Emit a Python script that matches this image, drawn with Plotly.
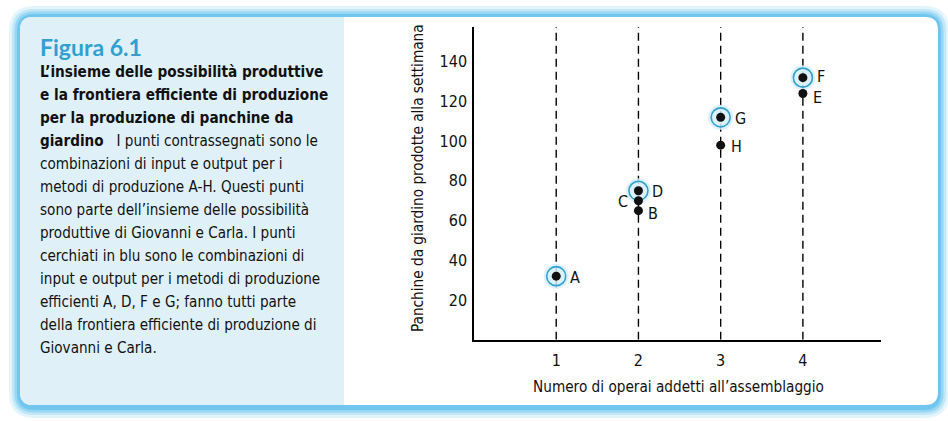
import plotly.graph_objects as go

# ---- data ----
labels = ['A', 'B', 'C', 'D', 'E', 'F', 'G', 'H']
workers = [1, 2, 2, 2, 4, 4, 3, 3]
benches = [32, 65, 70, 75, 124, 132, 112, 98]
efficient = [True, False, False, True, False, True, True, False]
label_side = ['right', 'right', 'left', 'right', 'right', 'right', 'right', 'right']
label_dy = [0, -2, 0, 0, -3, 2, 0, 0]

x_ticks = [1, 2, 3, 4]
y_ticks = [20, 40, 60, 80, 100, 120, 140]

x_title = "Numero di operai addetti all\u2019assemblaggio"
y_title = "Panchine da giardino prodotte alla settimana"
fig_title = "Figura 6.1"
caption_lines = [
    "<b>L\u2019insieme delle possibilità produttive</b>",
    "<b>e la frontiera efficiente di produzione</b>",
    "<b>per la produzione di panchine da</b>",
    "<b>giardino</b>   I punti contrassegnati sono le",
    "combinazioni di input e output per i",
    "metodi di produzione A-H. Questi punti",
    "sono parte dell\u2019insieme delle possibilità",
    "produttive di Giovanni e Carla. I punti",
    "cerchiati in blu sono le combinazioni di",
    "input e output per i metodi di produzione",
    "efficienti A, D, F e G; fanno tutti parte",
    "della frontiera efficiente di produzione di",
    "Giovanni e Carla.",
]

W, H = 948, 421
FONT = "DejaVu Sans Condensed, Liberation Sans, sans-serif"
BLUE = "#2fa0cf"


def px(x):
    return x / W


def py(y):
    return 1 - y / H


def rrect(x0, y0, x1, y1, r, corners=(1, 1, 1, 1)):
    tl, tr, br, bl = [r * c for c in corners]
    p = [f"M{px(x0 + tl)},{py(y0)}", f"L{px(x1 - tr)},{py(y0)}"]
    if tr:
        p.append(f"Q{px(x1)},{py(y0)} {px(x1)},{py(y0 + tr)}")
    p.append(f"L{px(x1)},{py(y1 - br)}")
    if br:
        p.append(f"Q{px(x1)},{py(y1)} {px(x1 - br)},{py(y1)}")
    p.append(f"L{px(x0 + bl)},{py(y1)}")
    if bl:
        p.append(f"Q{px(x0)},{py(y1)} {px(x0)},{py(y1 - bl)}")
    p.append(f"L{px(x0)},{py(y0 + tl)}")
    if tl:
        p.append(f"Q{px(x0)},{py(y0)} {px(x0 + tl)},{py(y0)}")
    p.append("Z")
    return " ".join(p)


shapes = []
cx0, cy0, cx1, cy1 = 20, 17, 938, 405
for d, col in [(11, "rgba(175,227,246,0.35)"), (8, "rgba(150,215,243,0.45)"),
               (5.5, "rgba(125,205,240,0.6)"), (3, "rgba(105,195,236,0.85)")]:
    shapes.append(dict(type="path", xref="paper", yref="paper", layer="below",
                       path=rrect(cx0 - d, cy0 - d, cx1 + d, cy1 + d + 2, 14 + d),
                       fillcolor=col, line=dict(width=0)))
shapes.append(dict(type="path", xref="paper", yref="paper", layer="below",
                   path=rrect(cx0, cy0, cx1, cy1, 13), fillcolor="white",
                   line=dict(width=0)))
shapes.append(dict(type="path", xref="paper", yref="paper", layer="below",
                   path=rrect(cx0, cy0, 344, cy1, 13, corners=(1, 0, 0, 1)),
                   fillcolor="#dff0f9", line=dict(width=0)))

for xv in x_ticks:
    shapes.append(dict(type="line", xref="x", yref="y", layer="below",
                       x0=xv, x1=xv, y0=0, y1=158,
                       line=dict(color="black", width=1.4, dash="8px,5px")))

fig = go.Figure()

eff_x = [x for x, e in zip(workers, efficient) if e]
eff_y = [y for y, e in zip(benches, efficient) if e]

fig.add_trace(go.Scatter(x=eff_x, y=eff_y, mode="markers", hoverinfo="skip",
                         marker=dict(size=25, color="rgba(215,238,249,0.85)", line=dict(width=0)),
                         showlegend=False))
fig.add_trace(go.Scatter(x=eff_x, y=eff_y, mode="markers", hoverinfo="skip",
                         marker=dict(size=19, symbol="circle-open", color=BLUE,
                                     line=dict(width=1.6, color=BLUE)),
                         showlegend=False))
fig.add_trace(go.Scatter(x=workers, y=benches, mode="markers",
                         marker=dict(size=9, color="#111111", line=dict(width=0)),
                         showlegend=False))

annotations = []
for lab, xv, yv, e, side, dy in zip(labels, workers, benches, efficient, label_side, label_dy):
    shift = 17 if e else 13
    annotations.append(dict(x=xv, y=yv, xref="x", yref="y", text=lab,
                            showarrow=False,
                            xanchor="left" if side == "right" else "right",
                            xshift=(shift - 5) if side == "right" else -(shift - 5),
                            yshift=dy - 1,
                            font=dict(family=FONT, size=16, color="#111111")))

annotations.append(dict(x=px(678), y=py(387), xref="paper", yref="paper",
                        text=x_title, showarrow=False, xanchor="center", yanchor="middle",
                        font=dict(family=FONT, size=15.2, color="#111111")))
annotations.append(dict(x=px(418), y=py(178), xref="paper", yref="paper",
                        text=y_title, showarrow=False, textangle=-90,
                        xanchor="center", yanchor="middle",
                        font=dict(family=FONT, size=15.2, color="#111111")))

annotations.append(dict(x=px(38), y=py(47), xref="paper", yref="paper",
                        text="<b>" + fig_title + "</b>", showarrow=False,
                        xanchor="left", yanchor="middle",
                        font=dict(family="Lato, Open Sans, sans-serif", size=23, color=BLUE)))
for i, line in enumerate(caption_lines):
    size = 15.2 if i < 3 else 15.1
    annotations.append(dict(x=px(38), y=py(72 + 23 * i), xref="paper", yref="paper",
                            text=line, showarrow=False, xanchor="left", yanchor="middle",
                            font=dict(family=FONT, size=size, color="#111111")))

fig.update_layout(
    width=W, height=H,
    margin=dict(l=0, r=0, t=0, b=0),
    paper_bgcolor="white",
    plot_bgcolor="rgba(0,0,0,0)",
    shapes=shapes,
    annotations=annotations,
    xaxis=dict(domain=[px(474), px(881)], range=[0, 4.95],
               tickmode="array", tickvals=x_ticks, ticktext=[str(t) for t in x_ticks],
               showgrid=False, zeroline=False, showline=True, linecolor="black", linewidth=1.5,
               ticks="outside", ticklen=5, tickcolor="rgba(0,0,0,0)",
               tickfont=dict(family=FONT, size=16, color="#111111")),
    yaxis=dict(domain=[py(339.7), py(27)], range=[0, 157.5],
               tickmode="array", tickvals=y_ticks, ticktext=[str(t) for t in y_ticks],
               showgrid=False, zeroline=False, showline=True, linecolor="black", linewidth=1.5,
               ticks="outside", ticklen=2, tickcolor="rgba(0,0,0,0)",
               tickfont=dict(family=FONT, size=16, color="#111111")),
)

fig.write_html("out.html")
